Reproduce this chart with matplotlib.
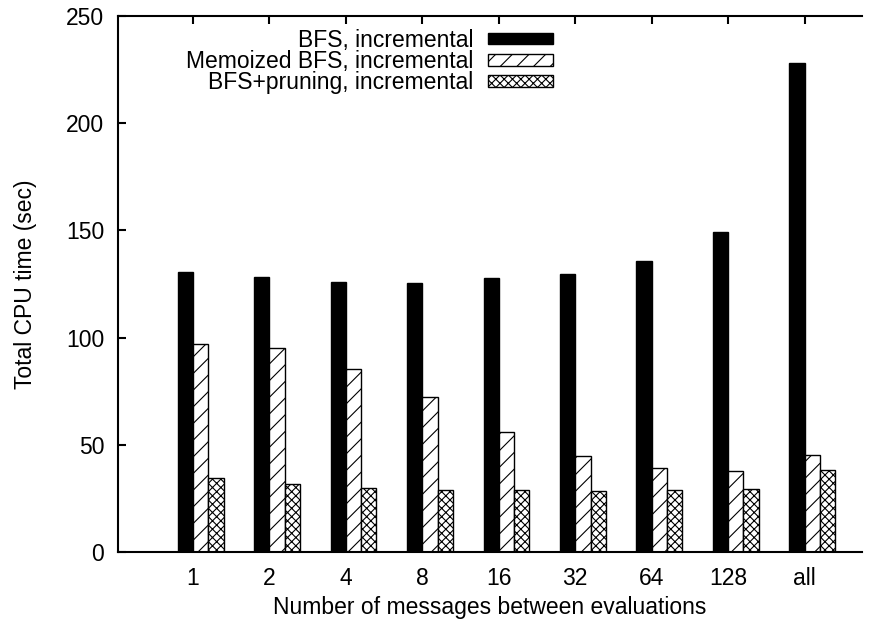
import numpy as np
import matplotlib
matplotlib.use('Agg')
import matplotlib.pyplot as plt

plt.rcParams['font.family'] = ['Liberation Sans', 'DejaVu Sans']
plt.rcParams['hatch.linewidth'] = 0.8

categories = ['1', '2', '4', '8', '16', '32', '64', '128', 'all']
bfs = [130.7, 128.4, 126.1, 125.6, 127.6, 129.8, 135.8, 149.1, 228.3]
memo = [96.9, 95.0, 85.5, 72.3, 56.1, 44.6, 39.2, 37.6, 45.4]
pruning = [34.4, 31.6, 29.7, 28.9, 28.9, 28.5, 28.8, 29.2, 38.2]
labels = ['BFS, incremental', 'Memoized BFS, incremental', 'BFS+pruning, incremental']

fs = 16.5
fig = plt.figure(figsize=(8.7, 6.24), dpi=100)
ax = fig.add_axes([118/870, 72/624, 744/870, 536/624])

x = np.arange(len(categories))
w = 0.2
ax.bar(x - w, bfs, w, align='edge', color='black', edgecolor='black', lw=1, label=labels[0])
ax.bar(x, memo, w, align='edge', color='white', edgecolor='black', lw=1, hatch='//', label=labels[1])
ax.bar(x + w, pruning, w, align='edge', color='white', edgecolor='black', lw=1, hatch='xxxx', label=labels[2])

ax.set_xlim(-0.98, 8.75)
ax.set_ylim(0, 250)
ax.set_xticks(x)
ax.set_xticklabels(categories)
ax.set_yticks([0, 50, 100, 150, 200, 250])
ax.spines['right'].set_visible(False)
for s in ['left', 'top', 'bottom']:
    ax.spines[s].set_linewidth(1.5)
ax.tick_params(axis='x', direction='in', bottom=False, top=True, length=6, width=1.5, labelsize=fs, pad=11)
ax.tick_params(axis='y', direction='in', length=6, width=1.5, labelsize=fs, pad=10)
ax.set_xlabel('Number of messages between evaluations', fontsize=fs, labelpad=4)
ax.set_ylabel('Total CPU time (sec)', fontsize=fs, labelpad=21)

# legend rows sit tighter than the font height, as in the original
ax.legend(loc='upper right', bbox_to_anchor=(0.585, 0.976), frameon=False, markerfirst=False,
          fontsize=fs, handlelength=2.84, handleheight=0.4, labelspacing=-0.08, handletextpad=0.65,
          borderaxespad=0, borderpad=0)

fig.savefig('out.png', dpi=100)
